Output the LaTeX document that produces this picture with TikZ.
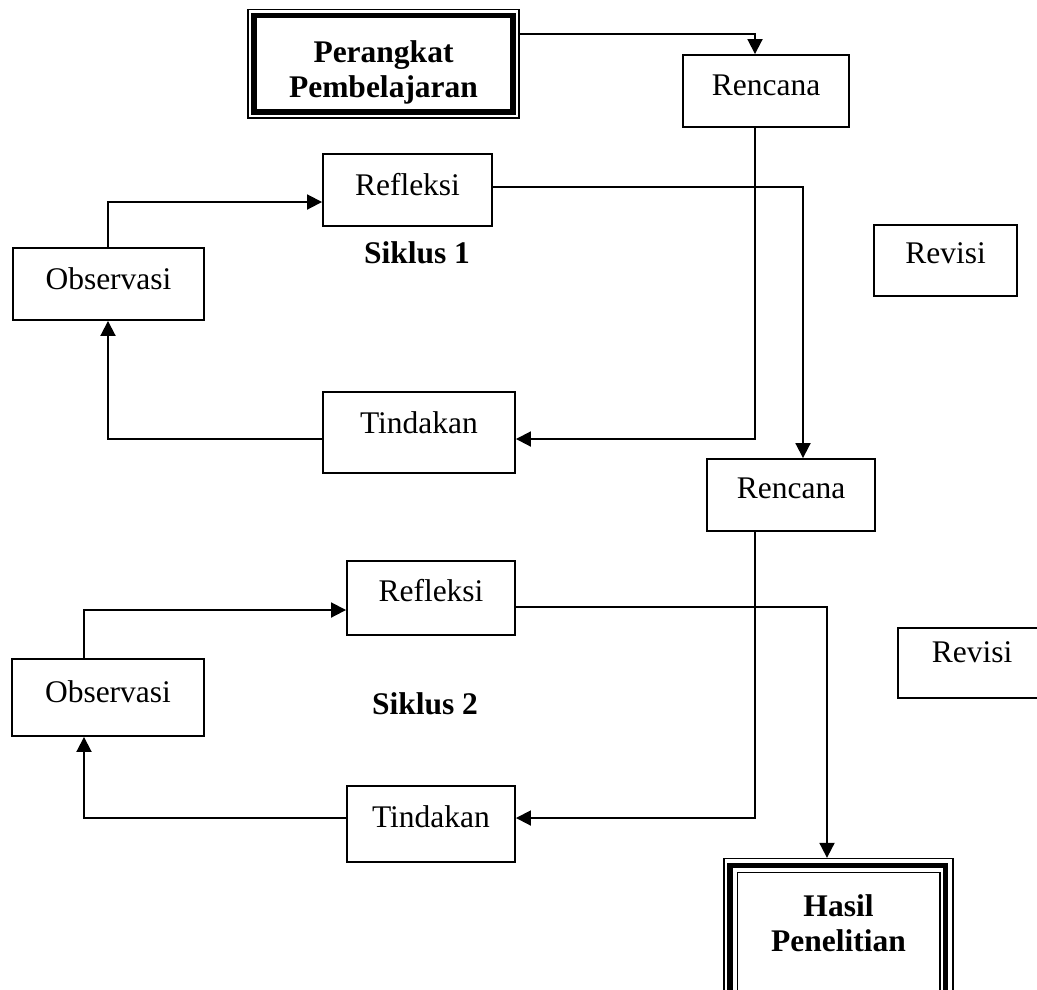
\documentclass[tikz,border=0pt]{standalone}
\usepackage{fontspec}
\setmainfont{Liberation Serif}
\usetikzlibrary{arrows.meta,calc}
\begin{document}
\begin{tikzpicture}[x=1pt,y=-1pt,
  bx/.style={draw,line width=1.9pt,inner sep=0pt,anchor=base,font=\fontsize{31.5}{35}\selectfont},
  lbl/.style={font=\fontsize{31.5}{35}\selectfont\bfseries,inner sep=0pt,align=center},
  frame/.style={draw,inner sep=0pt},
  arr/.style={line width=1.9pt,-{Triangle[length=15pt,width=15pt]}}]
\useasboundingbox (0,0) rectangle (1037,989);
\clip (0,0) rectangle (1037,989);

% Perangkat Pembelajaran (thin + thick border)
\node[frame,line width=1.3pt,minimum width=271pt,minimum height=108.5pt] (perO) at (383.5,63.75) {};
\node[frame,line width=5.5pt,minimum width=259pt,minimum height=96.5pt] (perT) at (383.5,63.75) {};
\node[lbl] (perText) at (383.5,72.3) {Perangkat\\Pembelajaran};

% cycle 1
\node[bx,minimum width=166pt,text height=40pt,text depth=32pt] (ren1) at (766,95) {Rencana};
\node[bx,minimum width=169pt,text height=41pt,text depth=31pt] (ref1) at (407.5,195) {Refleksi};
\node[bx,minimum width=191pt,text height=41pt,text depth=31pt] (obs1) at (108.5,289) {Observasi};
\node[bx,minimum width=192pt,text height=41pt,text depth=40pt] (tin1) at (419,433) {Tindakan};
\node[lbl,anchor=base] (sik1) at (417,263) {Siklus 1};
\node[bx,minimum width=143pt,text height=38pt,text depth=33pt] (rev1) at (945.5,263) {Revisi};

% cycle 2
\node[bx,minimum width=168pt,text height=39pt,text depth=33pt] (ren2) at (791,498) {Rencana};
\node[bx,minimum width=168pt,text height=40pt,text depth=34pt] (ref2) at (431,601) {Refleksi};
\node[bx,minimum width=191.5pt,text height=43pt,text depth=34pt] (obs2) at (108,702) {Observasi};
\node[bx,minimum width=168pt,text height=41pt,text depth=35pt] (tin2) at (431,827) {Tindakan};
\node[lbl,anchor=base] (sik2) at (425,714) {Siklus 2};
\node[bx,minimum width=148pt,text height=34pt,text depth=36pt] (rev2) at (972,662) {Revisi};

% Hasil Penelitian (thin + thick + thin border)
\node[frame,line width=1.3pt,minimum width=229pt,minimum height=161.5pt] (hasO) at (838.5,939.25) {};
\node[frame,line width=5.5pt,minimum width=215.5pt,minimum height=147.5pt] (hasT) at (837.75,939.25) {};
\node[frame,line width=1.3pt,minimum width=202.5pt,minimum height=133.5pt] (hasI) at (838.75,939.25) {};
\node[lbl] (hasText) at (838.5,923) {Hasil\\Penelitian};

% connectors
\coordinate (c1) at (755,34);
\draw[arr] (perO.east |- c1) -- (c1) -- (c1 |- ren1.north);
\coordinate (c2) at (755,439);
\draw[arr] (c2 |- ren1.south) -- (c2) -- (tin1.east |- c2);
\coordinate (c3) at (108,439);
\draw[arr] (tin1.west |- c3) -- (c3) -- (c3 |- obs1.south);
\coordinate (c4) at (108,202);
\draw[arr] (c4 |- obs1.north) -- (c4) -- (ref1.west |- c4);
\coordinate (c5) at (803,187);
\draw[arr] (ref1.east |- c5) -- (c5) -- (c5 |- ren2.north);
\coordinate (c6) at (755,818);
\draw[arr] (c6 |- ren2.south) -- (c6) -- (tin2.east |- c6);
\coordinate (c7) at (84,818);
\draw[arr] (tin2.west |- c7) -- (c7) -- (c7 |- obs2.south);
\coordinate (c8) at (84,610);
\draw[arr] (c8 |- obs2.north) -- (c8) -- (ref2.west |- c8);
\coordinate (c9) at (827,607);
\draw[arr] (ref2.east |- c9) -- (c9) -- (c9 |- hasO.north);
\end{tikzpicture}
\end{document}
